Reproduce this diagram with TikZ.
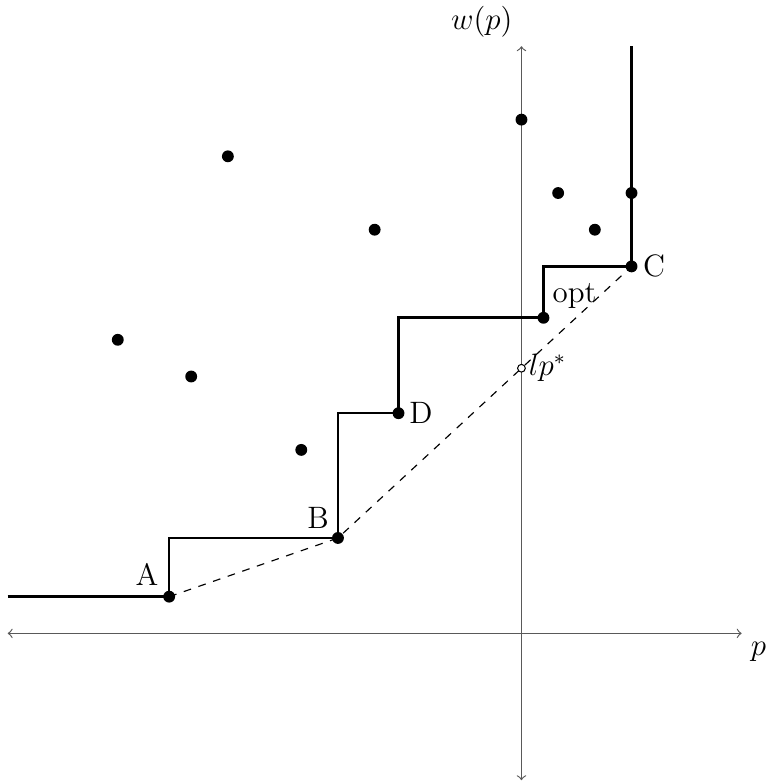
\documentclass[tikz,border=0pt]{standalone}
\begin{document}
\begin{tikzpicture}[x=0.5cm,y=0.5cm,
  dot/.style={circle,fill=black,inner sep=0pt,minimum size=4.6pt},
  odot/.style={circle,draw=black,fill=white,inner sep=0pt,minimum size=3pt,line width=0.4pt},
  axis/.style={<->,draw=black!65,line width=0.45pt},
  stepline/.style={line width=1.0pt,black},
  hull/.style={dashed,line width=0.45pt,black},
  lbl/.style={font=\large}]
\useasboundingbox (-14.21,-4.05) rectangle (6.66,17.26);
% axes
\coordinate (xl) at (-14,0);
\coordinate (xr) at (6,0);
\coordinate (yb) at (0,-4);
\coordinate (yt) at (0,16);
\draw[axis] (xl) -- (xr);
\draw[axis] (yb) -- (yt);
\node[lbl,below right] (plbl) at (xr) {$p$};
\node[lbl,above left] (wlbl) at (yt) {$w(p)$};
% scattered points
\node[dot] (p1) at (-11,8) {};
\node[dot] (p2) at (-9,7) {};
\node[dot] (p3) at (-8,13) {};
\node[dot] (p4) at (-6,5) {};
\node[dot] (p5) at (-4,11) {};
\node[dot] (p6) at (0,14) {};
\node[dot] (p7) at (1,12) {};
\node[dot] (p8) at (2,11) {};
\node[dot] (p9) at (3,12) {};
% key points
\node[dot] (A) at (-9.6,1) {};
\node[dot] (B) at (-5,2.6) {};
\node[dot] (D) at (-3.35,6) {};
\node[dot] (O) at (0.6,8.6) {};
\node[dot] (C) at (3,10) {};
\coordinate (S) at (-14,1);
\coordinate (T) at (3,16);
% staircase
\draw[stepline] (S) -- (A.center) |- (B.center) |- (D.center) |- (O.center) |- (C.center) -- (T);
% dashed lower hull
\draw[hull] (A.center) -- (B.center) -- (C.center);
\node[odot] (LP) at (0,7.225) {};
% labels
\node[lbl,above left,inner sep=4pt] (Albl) at (A.center) {A};
\node[lbl,above left] (Blbl) at (B.center) {B};
\node[lbl,right,inner sep=1.5pt] (Dlbl) at (D.east) {D};
\node[lbl,right,inner sep=1.8pt] (Clbl) at (C.east) {C};
\node[lbl,above right] (Olbl) at (O.center) {opt};
\node[lbl,right,inner sep=1pt] (LPlbl) at (LP.east) {$lp^*$};
\end{tikzpicture}
\end{document}
